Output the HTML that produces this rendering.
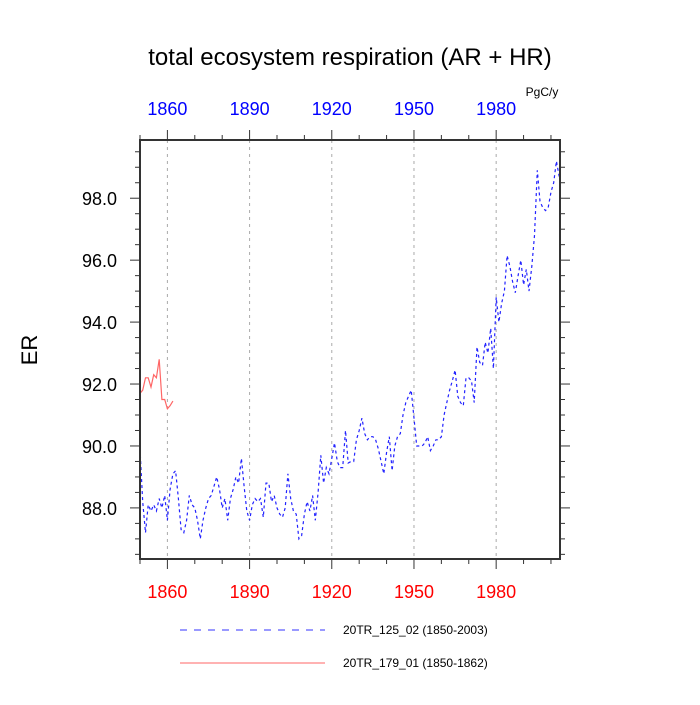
<!DOCTYPE html>
<html><head><meta charset="utf-8"><style>
body{margin:0;background:#fff;font-family:"Liberation Sans",sans-serif}
svg text{font-family:"Liberation Sans",sans-serif}
</style></head><body>
<svg id="chart" width="700" height="700">
<text x="350" y="65" text-anchor="middle" font-size="24">total ecosystem respiration (AR + HR)</text>
<text x="542" y="96" text-anchor="middle" font-size="12">PgC/y</text>
<text x="37" y="350" text-anchor="middle" font-size="22" transform="rotate(-90 37 350)">ER</text>
<g id="grid"></g><g id="series"></g><g id="axes"></g>
<g>
<line x1="180" y1="630" x2="325" y2="630" stroke="#33f" stroke-dasharray="7,7"/>
<text x="343" y="634" font-size="12">20TR_125_02 (1850-2003)</text>
<line x1="180" y1="663" x2="325" y2="663" stroke="#f66"/>
<text x="343" y="667" font-size="12">20TR_179_01 (1850-1862)</text>
</g>
</svg>
<script>
const blueStart=1850;
const blueValues=[89.9,88.2,87.2,88.1,87.9,88.1,87.9,88.3,88.0,88.4,
87.6,88.6,89.1,89.2,88.3,87.3,87.2,87.6,88.4,88.1,
88.0,87.6,87.0,87.6,88.0,88.3,88.4,88.7,89.0,88.6,
88.0,88.3,87.6,88.3,88.6,89.0,88.8,89.6,88.7,87.9,
87.6,88.1,88.3,88.2,88.3,87.7,88.8,88.8,88.2,88.4,
88.0,87.8,87.7,88.0,89.1,88.3,87.9,87.8,87.0,87.1,
87.8,88.2,87.9,88.4,87.6,88.5,89.7,88.8,89.3,89.1,
89.6,90.1,89.5,89.3,89.3,90.5,89.45,89.5,89.5,90.2,
90.5,90.9,90.4,90.2,90.3,90.3,90.2,89.9,89.5,89.1,
89.8,90.3,89.2,90.0,90.3,90.4,91.0,91.4,91.6,91.8,
90.9,90.0,90.0,90.0,90.1,90.3,89.85,90.0,90.2,90.2,
90.3,91.0,91.4,91.8,92.1,92.45,91.6,91.4,91.3,92.2,
92.2,92.1,91.4,93.2,92.7,92.6,93.35,93.0,93.8,92.5,
94.8,94.0,94.6,95.0,96.15,95.8,95.3,94.95,95.5,96.0,
95.2,95.7,95.0,95.8,96.8,98.9,97.9,97.7,97.6,97.7,
98.2,98.5,99.2,98.7];
const redStart=1850;
const redValues=[91.7,91.8,92.2,92.2,91.9,92.3,92.2,92.8,91.5,91.5,91.2,91.3,91.45];
const yTicks=[88,90,92,94,96,98];
const xTicks=[1860,1890,1920,1950,1980];
const L=140,R=560,T=140,B=559,x0=1850,x1=2003.3,y0=86.35,y1=99.88;
const X=v=>L+(v-x0)/(x1-x0)*(R-L);
const Y=v=>B-(v-y0)/(y1-y0)*(B-T);
const NS="http://www.w3.org/2000/svg";
function mk(tag,attrs,parent,txt){const e=document.createElementNS(NS,tag);for(const k in attrs)e.setAttribute(k,attrs[k]);if(txt!==undefined)e.textContent=txt;parent.appendChild(e);return e;}
const grid=document.getElementById('grid'),ser=document.getElementById('series'),ax=document.getElementById('axes');
xTicks.forEach(t=>{const l=mk('line',{x1:X(t),x2:X(t),y1:T,y2:B,stroke:'#aaa','stroke-dasharray':'3,4'},grid);

});
function line(vals,start,color,dash,name){const pts=vals.map((v,i)=>X(start+i).toFixed(1)+','+Y(v).toFixed(1)).join(' ');
const p=mk('polyline',{points:pts,fill:'none',stroke:color,'stroke-width':1.2},ser);if(dash)p.setAttribute('stroke-dasharray',dash);

}
line(blueValues,blueStart,'#22f','3,3','series-20TR-125-02');
line(redValues,redStart,'#f66',null,'series-20TR-179-01');
const fr=mk('rect',{x:L,y:T,width:R-L,height:B-T,fill:'none',stroke:'#333','stroke-width':2},ax);


for(let v=86.5;v<=99.9;v+=0.5){const maj=Math.abs(v-Math.round(v))<0.01&&Math.round(v)%2===0;const len=maj?10:5;
mk('line',{x1:L,x2:L-len,y1:Y(v),y2:Y(v),stroke:'#333'},ax);mk('line',{x1:R,x2:R+len,y1:Y(v),y2:Y(v),stroke:'#333'},ax);}
yTicks.forEach(t=>{const e=mk('text',{x:L-23,y:Y(t)+7,'text-anchor':'end','font-size':18},ax,t.toFixed(1));

});
for(let yr=1850;yr<=2000;yr+=10){const maj=(yr-1860)%30===0;const len=maj?10:5;
mk('line',{x1:X(yr),x2:X(yr),y1:B,y2:B+len,stroke:'#333'},ax);mk('line',{x1:X(yr),x2:X(yr),y1:T,y2:T-len,stroke:'#333'},ax);}
xTicks.forEach(t=>{const b=mk('text',{x:X(t),y:598,'text-anchor':'middle','font-size':18,fill:'#f00'},ax,t);


const tp=mk('text',{x:X(t),y:115,'text-anchor':'middle','font-size':18,fill:'#00f'},ax,t);

});
</script>
</body></html>
